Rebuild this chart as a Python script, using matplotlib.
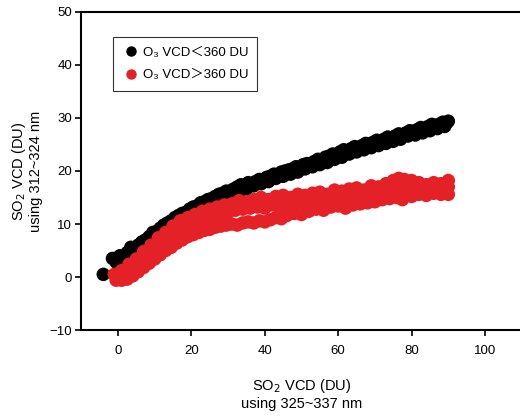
import matplotlib
matplotlib.use("Agg")
import matplotlib.pyplot as plt
from matplotlib.lines import Line2D

plt.rcParams['font.family'] = ['Liberation Sans', 'Noto Sans CJK SC', 'DejaVu Sans']

# ---- data ----
black_x_a = [-4, -1.5, -0.5, 0.5, 1.5, 2.5, 3.5, 4.5, 5.5, 6.5, 7.5, 8.5, 9.5, 10.5, 11.5, 12.5,
             13.5, 14.5, 15.5, 16.5, 17.5, 18.5, 19.5, 20.5, 21.5, 22.5, 23.5, 24.5, 25.5, 26.5,
             27.5, 28.5, 29.5, 30.5, 31.5, 32.5, 33.5, 34.5, 35.5, 36.5, 37.5, 38.5, 39.5, 40.5,
             41.5, 42.5, 43.5, 44.5, 45.5, 46.5, 47.5, 48.5, 49.5, 50.5, 51.5, 52.5, 53.5, 54.5,
             55.5, 56.5, 57.5, 58.5, 59.5, 60.5, 61.5, 62.5, 63.5, 64.5, 65.5, 66.5, 67.5, 68.5,
             69.5, 70.5, 71.5, 72.5, 73.5, 74.5, 75.5, 76.5, 77.5, 78.5, 79.5, 80.5, 81.5, 82.5,
             83.5, 84.5, 85.5, 86.5, 87.5, 88.5, 89.5, 90]
black_y_a = [0.5, 3.5, 2.8, 4.0, 3.6, 4.6, 5.6, 5.2, 6.0, 6.6, 7.0, 7.6, 8.4, 8.6, 9.2, 9.8,
             10.2, 10.6, 11.2, 11.6, 12.0, 12.2, 12.8, 13.2, 13.4, 14.0, 14.2, 14.6, 14.8, 15.2,
             15.6, 15.8, 16.2, 16.2, 16.6, 17.0, 17.4, 17.2, 17.8, 17.6, 18.0, 18.4, 18.2, 18.8,
             19.0, 19.4, 19.2, 19.8, 20.0, 20.2, 20.4, 20.8, 20.6, 21.2, 21.4, 21.4, 21.8, 22.2,
             22.0, 22.6, 22.8, 23.2, 23.0, 23.6, 24.0, 23.8, 24.2, 24.6, 24.4, 24.8, 25.2, 25.0,
             25.4, 25.8, 25.6, 26.0, 26.4, 26.2, 26.6, 27.0, 26.8, 27.2, 27.6, 27.4, 27.8, 28.2,
             28.0, 28.4, 28.8, 28.6, 28.8, 29.2, 29.0, 29.4]
black_x_b = [1, 3, 5, 7, 9, 11, 13, 15, 17, 19, 21, 23, 25, 27, 29, 31, 33, 35, 37, 39, 41, 43,
             45, 47, 49, 51, 53, 55, 57, 59, 61, 63, 65, 67, 69, 71, 73, 75, 77, 79, 81, 83, 85,
             87, 89]
black_y_b = [2.8, 4.0, 4.8, 6.0, 7.2, 8.2, 9.2, 10.0, 10.8, 11.6, 12.4, 13.0, 13.6, 14.4, 15.0,
             15.6, 16.0, 16.6, 17.2, 17.6, 18.0, 18.6, 19.0, 19.4, 19.8, 20.4, 20.8, 21.2, 21.6,
             22.2, 22.6, 23.2, 23.6, 24.0, 24.4, 24.8, 25.2, 25.6, 26.0, 26.6, 26.8, 27.2, 27.6,
             28.0, 28.4]

red_x_a = [-1, 1, 3, 5, 7, 9, 11, 13, 15, 17, 19, 21, 23, 25, 27, 29, 31, 33, 35, 37, 39, 41,
           43, 45, 47, 49, 51, 53, 55, 57, 59, 61, 63, 65, 67, 69, 71, 73, 75, 76.5, 78, 80, 82,
           84, 86, 88, 90]
red_y_a = [0.5, 1.2, 2.4, 3.4, 4.8, 6.0, 7.4, 8.4, 9.6, 10.6, 11.2, 11.8, 12.4, 12.8, 13.2,
           13.6, 13.8, 14.4, 14.2, 14.6, 15.0, 14.6, 15.2, 15.4, 15.0, 15.6, 15.4, 15.8, 16.0,
           15.6, 16.4, 16.2, 16.6, 16.8, 16.4, 17.2, 17.0, 17.6, 18.2, 18.6, 18.4, 18.2, 17.8,
           17.4, 17.8, 17.6, 18.2]
red_x_b = [0, 2, 4, 6, 8, 10, 12, 14, 16, 18, 20, 22, 24, 26, 28, 30, 32, 34, 36, 38, 40, 42,
           44, 46, 48, 50, 52, 54, 56, 58, 60, 62, 64, 66, 68, 70, 72, 74, 76, 78, 80, 82, 84,
           86, 88, 90]
red_y_b = [-0.2, 0.8, 1.6, 2.6, 3.8, 5.0, 6.2, 7.4, 8.4, 9.2, 10.0, 10.6, 11.0, 11.6, 11.8,
           12.2, 12.6, 12.8, 13.0, 13.2, 13.0, 13.6, 13.4, 14.0, 13.8, 14.2, 14.4, 14.6, 14.4,
           15.0, 14.8, 15.2, 15.4, 15.0, 15.6, 15.8, 16.2, 16.6, 16.8, 16.4, 16.8, 16.6, 16.4,
           16.8, 16.6, 17.0]
red_x_c = [-0.5, 1, 2.5, 4, 5.5, 7, 8.5, 10, 11.5, 13, 14.5, 16, 17.5, 19, 20.5, 22, 23.5, 25,
           26.5, 28, 29.5, 31, 32.5, 34, 35.5, 37, 38.5, 40, 41.5, 43, 44.5, 46, 48, 50, 52, 54,
           56, 58, 60, 62, 64, 66, 68, 70, 72, 74, 76, 77.5, 80, 82, 84, 86, 88, 90]
red_y_c = [-0.6, -0.6, -0.4, 0.2, 1.0, 1.8, 2.6, 3.4, 4.2, 5.0, 5.6, 6.4, 7.0, 7.6, 8.0, 8.4,
           8.8, 9.0, 9.4, 9.6, 9.8, 10.0, 9.8, 10.2, 10.4, 10.2, 10.6, 10.4, 10.8, 11.2, 11.0,
           11.6, 12.0, 11.8, 12.4, 12.8, 12.6, 13.2, 13.4, 13.0, 13.6, 13.8, 14.0, 14.2, 14.6,
           14.8, 15.0, 14.6, 15.2, 15.6, 15.4, 15.8, 15.6, 15.6]

black_x = black_x_a + black_x_b
black_y = black_y_a + black_y_b
red_x = red_x_a + red_x_b + red_x_c
red_y = red_y_a + red_y_b + red_y_c

labels = ["O\u2083 VCD\uff1c360 DU", "O\u2083 VCD\uff1e360 DU"]
xticks = [0, 20, 40, 60, 80, 100]
yticks = [-10, 0, 10, 20, 30, 40, 50]

BLACK = "#000000"
RED = "#e52128"

fig = plt.figure(figsize=(5.2, 4.16), dpi=100)
ax = fig.add_axes([0.1563, 0.2067, 0.847, 0.7645])

ax.scatter(black_x, black_y, s=95, color=BLACK, edgecolors="none", zorder=2)
ax.scatter(red_x, red_y, s=95, color=RED, edgecolors="none", zorder=3)

ax.set_xlim(-10, 110)
ax.set_ylim(-10, 50)
ax.set_xticks(xticks)
ax.set_yticks(yticks)
ax.set_yticklabels([("\u221210" if t == -10 else str(t)) for t in yticks])

for side in ["left", "bottom", "top"]:
    ax.spines[side].set_linewidth(1.5)
ax.spines["right"].set_visible(False)
ax.tick_params(axis="both", direction="out", length=4.5, width=1.2, labelsize=9.5, pad=2)
ax.tick_params(axis="x", pad=6)
ax.tick_params(top=False, right=False)

ax.set_xlabel("SO$_2$ VCD (DU)\nusing 325~337 nm", fontsize=10.5, labelpad=15, linespacing=1.15)
ax.set_ylabel("SO$_2$ VCD (DU)\nusing 312~324 nm", fontsize=10.5, labelpad=5, linespacing=1.1)

handles = [Line2D([], [], marker="o", linestyle="none", color=BLACK, markersize=6.5),
           Line2D([], [], marker="o", linestyle="none", color=RED, markersize=6.5)]
leg = ax.legend(handles, labels, loc="upper left", bbox_to_anchor=(0.072, 0.921),
                borderaxespad=0, fontsize=9.5, frameon=True, fancybox=False,
                edgecolor="black", labelspacing=0.8, handlelength=1.3, handletextpad=0.25,
                borderpad=0.7)
leg.get_frame().set_linewidth(0.8)

fig.savefig("out.png", dpi=100)
